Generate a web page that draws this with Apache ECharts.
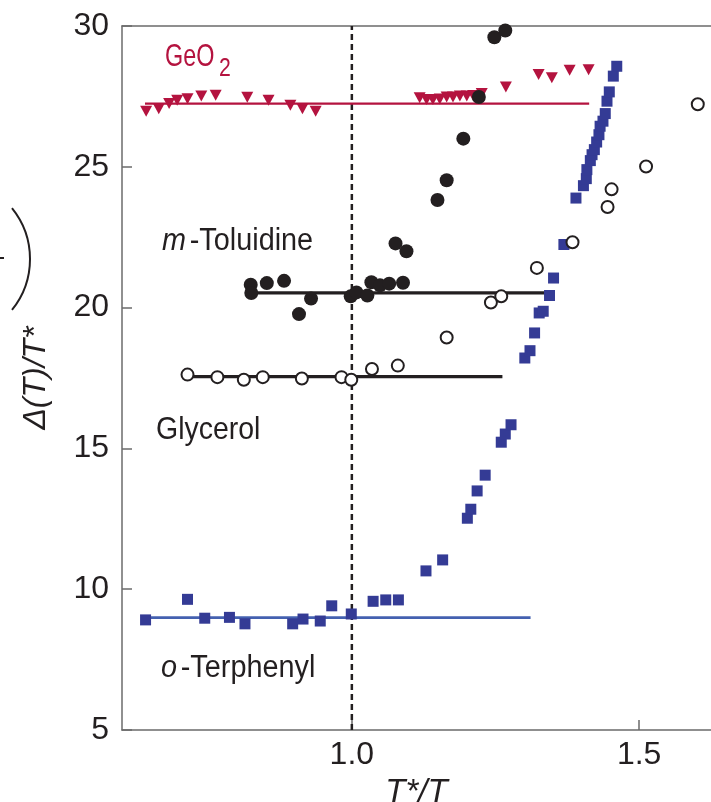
<!DOCTYPE html>
<html>
<head>
<meta charset="utf-8">
<script src="https://cdn.jsdelivr.net/npm/echarts@6/dist/echarts.min.js"></script>
<style>html,body{margin:0;padding:0;background:#fff;}#chart{width:711px;height:802px;}</style>
</head>
<body>
<div id="chart"></div>
<script>
// ---- data (x = T*/T, y = Δ(T)/T*) ----
const xTicks = [1.0, 1.5];
const yTicks = [5, 10, 15, 20, 25, 30];

const geo2Points = [
  [0.642,26.97],[0.664,27.06],[0.682,27.25],[0.696,27.36],[0.714,27.42],[0.738,27.51],
  [0.763,27.54],[0.818,27.47],[0.855,27.36],[0.893,27.19],[0.914,27.06],[0.937,26.97],
  [1.118,27.45],[1.130,27.39],[1.141,27.39],[1.153,27.41],[1.165,27.48],[1.176,27.48],
  [1.188,27.51],[1.200,27.51],[1.211,27.53],[1.226,27.60],[1.268,27.83],[1.325,28.28],
  [1.348,28.16],[1.379,28.43],[1.412,28.45]
];
const geo2Fit = [[0.640,27.24],[1.413,27.24]];

const toluidinePoints = [
  [0.824,20.81],[0.825,20.52],[0.852,20.87],[0.882,20.95],[0.908,19.77],[0.929,20.32],
  [0.998,20.40],[1.008,20.54],[1.027,20.43],[1.034,20.90],[1.049,20.79],[1.065,20.85],
  [1.089,20.88],[1.076,22.28],[1.095,22.00],[1.149,23.82],[1.165,24.52],[1.194,26.00],
  [1.221,27.48],[1.248,29.60],[1.267,29.84]
];
const toluidineFit = [[0.834,20.52],[1.352,20.52]];

const glycerolPoints = [
  [0.714,17.62],[0.766,17.53],[0.812,17.44],[0.845,17.53],[0.913,17.48],[0.982,17.53],
  [0.999,17.44],[1.035,17.82],[1.080,17.94],[1.165,18.94],[1.242,20.18],[1.260,20.40],
  [1.322,21.41],[1.384,22.32],[1.445,23.57],[1.452,24.20],[1.512,25.01],[1.602,27.22]
];
const glycerolFit = [[0.718,17.55],[1.262,17.55]];

const terphenylPoints = [
  [0.641,8.91],[0.714,9.64],[0.744,8.97],[0.787,9.00],[0.814,8.77],[0.897,8.77],
  [0.915,8.94],[0.945,8.87],[0.965,9.41],[0.999,9.12],[1.037,9.57],[1.059,9.62],
  [1.081,9.62],[1.129,10.65],[1.158,11.04],[1.201,12.52],[1.207,12.84],[1.218,13.49],
  [1.232,14.05],[1.260,15.22],[1.267,15.51],[1.277,15.84],[1.301,18.21],[1.310,18.47],
  [1.318,19.10],[1.326,19.81],[1.333,19.87],[1.344,20.43],[1.351,21.05],[1.369,22.24],
  [1.390,23.89],[1.403,24.33],[1.408,24.58],[1.409,24.90],[1.415,25.22],[1.418,25.43],
  [1.422,25.61],[1.426,25.88],[1.430,26.14],[1.432,26.44],[1.437,26.62],[1.441,26.89],
  [1.444,27.33],[1.448,27.66],[1.455,28.22],[1.461,28.57]
];
const terphenylFit = [[0.637,8.99],[1.311,8.99]];

const refLine = [[1.0,5],[1.0,30]];

// ---- styles ----
const CRIMSON = '#b4133f';
const BLUE = '#343b95';
const BLUE_LINE = '#4461b0';
const INK = '#231f20';
const AXIS = '#6b6b6b';
const SANS = '"Liberation Sans", Arial, sans-serif';

const chart = echarts.init(document.getElementById('chart'), null, {renderer:'canvas'});

function fitLine(name, data, color, width){
  return {name, type:'line', data, symbol:'none', silent:true, z:2,
    lineStyle:{color, width}, animation:false};
}

const option = {
  animation:false,
  backgroundColor:'#fff',
  grid:{left:122, right:0, top:26, bottom:72, outerBoundsMode:'none', containLabel:false},
  xAxis:[{
    type:'value', min:0.6, max:1.625, position:'bottom',
    axisLine:{show:true, lineStyle:{color:AXIS, width:1.5}},
    axisTick:{show:true, inside:true, length:10, customValues:xTicks, lineStyle:{color:AXIS, width:1.5}},
    axisLabel:{show:true, customValues:xTicks, formatter:v=>v.toFixed(1), margin:9,
      fontFamily:SANS, fontSize:32, color:INK},
    splitLine:{show:false},
    name:'T*/T', nameLocation:'middle', nameGap:40,
    nameTextStyle:{fontFamily:SANS, fontStyle:'italic', fontSize:33, color:INK}
  },{
    type:'value', min:0.6, max:1.625, position:'top',
    axisLine:{show:true, lineStyle:{color:AXIS, width:1.5}},
    axisTick:{show:false}, axisLabel:{show:false}, splitLine:{show:false}
  }],
  yAxis:{
    type:'value', min:5, max:30, interval:5,
    axisLine:{show:true, lineStyle:{color:AXIS, width:1.5}},
    axisTick:{show:true, inside:true, length:10, lineStyle:{color:AXIS, width:1.5}},
    axisLabel:{show:true, margin:13, fontFamily:SANS, fontSize:32, color:INK},
    splitLine:{show:false},
    name:'Δ(T)/T*', nameLocation:'middle', nameGap:70,
    nameTextStyle:{fontFamily:SANS, fontStyle:'italic', fontSize:32, color:INK}
  },
  series:[
    {name:'ref', type:'line', data:refLine, symbol:'none', silent:true, z:1,
      lineStyle:{color:INK, width:2.5, type:[6,4]}},
    fitLine('GeO2 fit', geo2Fit, CRIMSON, 2.2),
    fitLine('m-Toluidine fit', toluidineFit, INK, 3.2),
    fitLine('Glycerol fit', glycerolFit, INK, 3.2),
    fitLine('o-Terphenyl fit', terphenylFit, BLUE_LINE, 2.6),
    {name:'GeO2', type:'scatter', data:geo2Points, symbol:'triangle', symbolRotate:180,
      symbolSize:[12,11], itemStyle:{color:CRIMSON, opacity:1}, z:3},
    {name:'o-Terphenyl', type:'scatter', data:terphenylPoints, symbol:'rect', symbolSize:11,
      itemStyle:{color:BLUE, opacity:1}, z:3},
    {name:'Glycerol', type:'scatter', data:glycerolPoints, symbol:'circle', symbolSize:12,
      itemStyle:{color:'#ffffff', borderColor:INK, borderWidth:2, opacity:1}, z:4},
    {name:'m-Toluidine', type:'scatter', data:toluidinePoints, symbol:'circle', symbolSize:14,
      itemStyle:{color:INK, opacity:1}, z:5}
  ],
  graphic:[
    {type:'text', x:165, y:57, scaleX:0.73, style:{text:'GeO', font:'32px '+SANS, fill:CRIMSON, verticalAlign:'middle'}},
    {type:'text', x:219, y:69, scaleX:0.85, style:{text:'2', font:'25px '+SANS, fill:CRIMSON, verticalAlign:'middle'}},
    {type:'text', x:162, y:241, scaleX:0.93, style:{
      text:'{i|m}{n|-Toluidine}', verticalAlign:'middle',
      rich:{i:{font:'italic 31px '+SANS, fill:INK, padding:[0,4,0,0]}, n:{font:'31px '+SANS, fill:INK}}}},
    {type:'text', x:156, y:430, scaleX:0.89, style:{text:'Glycerol', font:'32px '+SANS, fill:INK, verticalAlign:'middle'}},
    {type:'text', x:161, y:668, scaleX:0.93, style:{
      text:'{i|o}{n|-Terphenyl}', verticalAlign:'middle',
      rich:{i:{font:'italic 31px '+SANS, fill:INK, padding:[0,4,0,0]}, n:{font:'31px '+SANS, fill:INK}}}},
    // cropped fragment of a bracket at the left edge of the source figure
    {type:'arc', shape:{cx:-51, cy:259, r:81, startAngle:-0.68, endAngle:0.68, clockwise:true},
      style:{stroke:INK, lineWidth:2, fill:null}},
    {type:'line', shape:{x1:0, y1:258, x2:4, y2:258}, style:{stroke:INK, lineWidth:2}}
  ]
};
chart.setOption(option);
</script>
</body>
</html>
